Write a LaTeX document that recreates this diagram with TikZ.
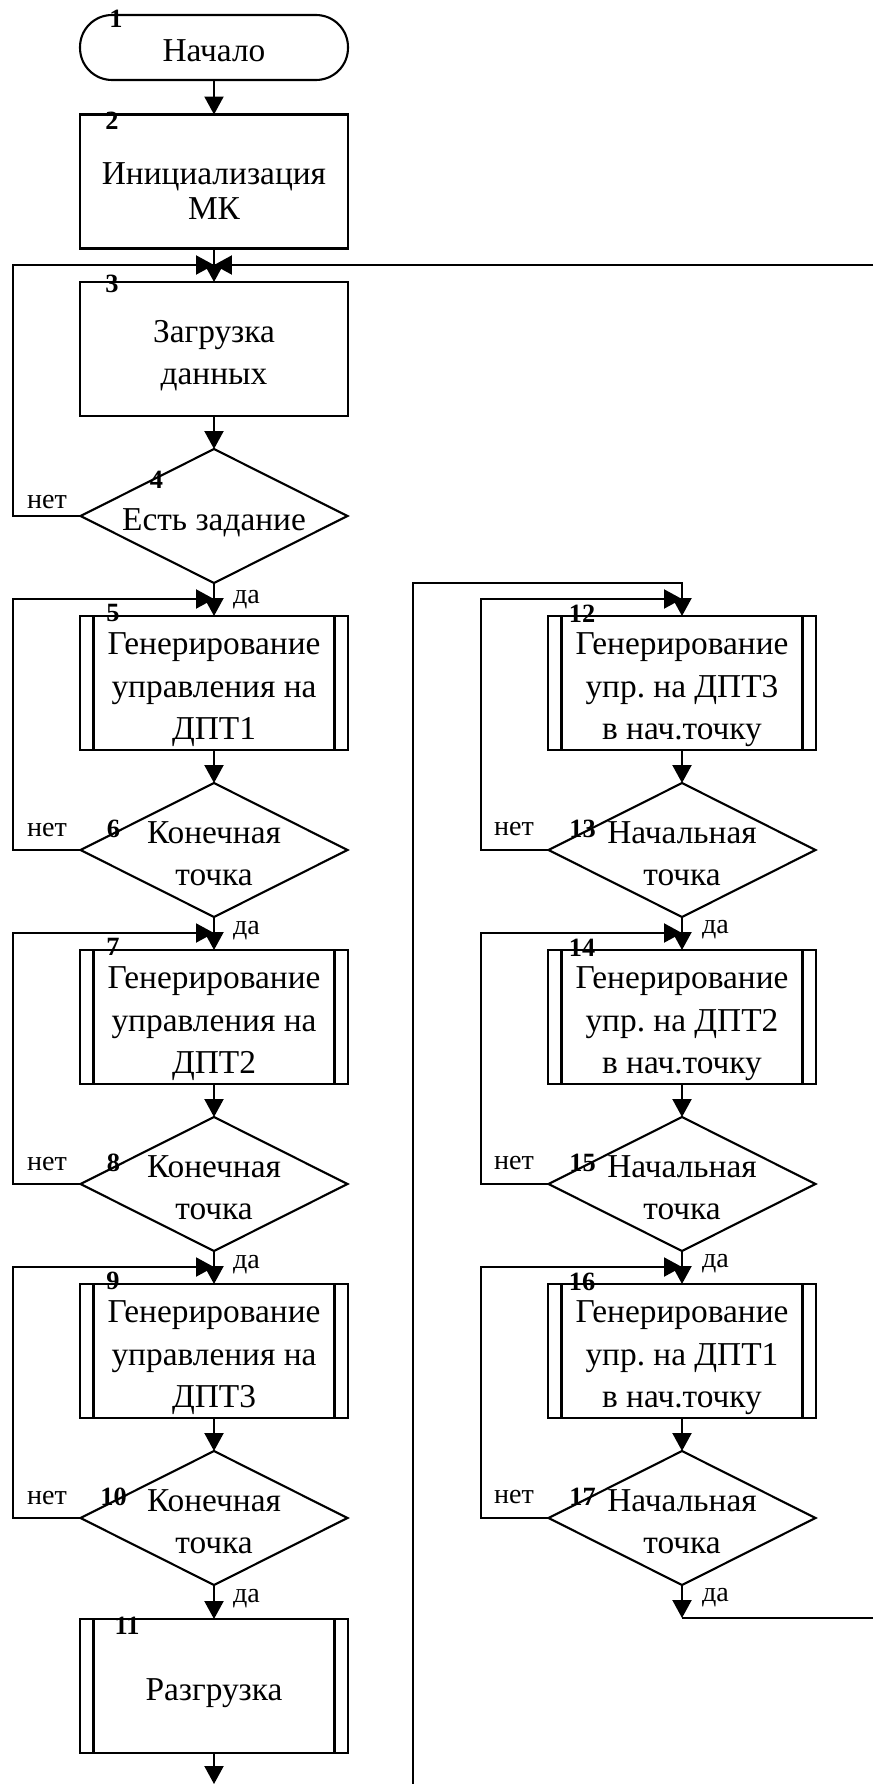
\documentclass[tikz,border=0pt]{standalone}
\usepackage{fontspec}
\setmainfont{Liberation Serif}
\usetikzlibrary{arrows.meta,shapes.geometric}

\newcommand\blockfont{\fontsize{19}{24.2}\selectfont}
\newcommand\tagfont{\fontsize{15}{15}\selectfont\bfseries}
\newcommand\notefont{\fontsize{16}{16}\selectfont}
\newcommand\lnstrut{\rule[-0.22em]{0pt}{1.3em}}

\tikzset{
  every node/.style={inner sep=0pt, outer sep=0pt},
  blk/.style={draw, line width=1.2pt, font=\blockfont, align=center,
    execute at end node=\lnstrut},
  term/.style={blk, rounded corners=0.64cm, minimum width=5.36cm, minimum height=1.3cm},
  proc/.style={blk, minimum width=5.36cm, minimum height=2.68cm},
  subproc/.style={proc, path picture={
      \draw[line width=1.2pt]
        ([xshift=0.27cm]path picture bounding box.north west) -- ([xshift=0.27cm]path picture bounding box.south west)
        ([xshift=-0.27cm]path picture bounding box.north east) -- ([xshift=-0.27cm]path picture bounding box.south east);}},
  dec/.style={draw, line width=1.2pt, diamond, minimum width=5.34cm, minimum height=2.68cm},
  dtxt/.style={font=\blockfont, align=center, execute at end node=\lnstrut},
  tag/.style={font=\tagfont},
  note/.style={font=\notefont},
  con/.style={line width=1.2pt},
  arr/.style={con, -{Triangle[length=0.36cm, width=0.38cm]}},
}

\begin{document}
\frenchspacing
\begin{tikzpicture}[x=0.02cm, y=-0.02cm]
  \useasboundingbox (0,0) rectangle (873,1784);

  % start, init, load, check
  \node[term] (s1) at (214,47.5) {\lnstrut Начало};
  \node[proc, font=\fontsize{19}{19.9}\selectfont] (b2) at (214,181.5)
    {\rule{0pt}{0.95cm}Инициализация\\МК};
  \node[proc] (b3) at (214,349) {\lnstrut Загрузка\\данных};
  \node[dec] (d4) at (214,516) {};
  \node[dtxt] (t4) at (d4) {\lnstrut Есть задание};
  \coordinate (j3) at (214,265);
  \coordinate (k3) at (13,265);
  \coordinate (r3) at (873,265);

  \node[tag] (n1) at ([shift={(36,4)}]s1.north west) {1};
  \node[tag] (n2) at ([shift={(32,6)}]b2.north west) {2};
  \node[tag] (n3) at ([shift={(32,2)}]b3.north west) {3};
  \node[tag] (n4) at ([shift={(76,-36)}]d4.west) {4};

  \draw[arr] (s1) -- (b2);
  \draw[arr] (b2) -- (b3);
  \draw[arr] (b3) -- (d4);
  \draw[arr] (d4.west) -| (k3) -- (j3);
  \draw[arr] (r3) -- (j3);
  \node[note, anchor=base] (no4) at (47,508) {нет};

  % left column: run each motor to its end point
  \foreach \i/\bn/\dn/\m in {0/5/6/1, 1/7/8/2, 2/9/10/3}
  {
    \node[subproc] (b\bn) at (214,683+334*\i) {\lnstrut Генерирование\\управления на\\ДПТ\m};
    \node[dec] (d\dn) at (214,850+334*\i) {};
    \node[dtxt] (t\dn) at (d\dn) {\lnstrut Конечная\\точка};
    \coordinate (j\bn) at (214,599+334*\i);
    \coordinate (k\bn) at (13,599+334*\i);
    \node[tag] (n\bn) at ([shift={(33,-3)}]b\bn.north west) {\bn};
    \node[tag] (n\dn) at ([shift={(33,-21)}]d\dn.west) {\dn};
    \draw[arr] (b\bn) -- (d\dn);
    \draw[arr] (d\dn.west) -| (k\bn) -- (j\bn);
    \node[note, anchor=base] (no\dn) at (47,836+334*\i) {нет};
    \node[note, anchor=base west] (yes\dn) at (233,934+334*\i) {да};
  }
  \node[note, anchor=base west] (yes4) at (233,603) {да};
  \draw[arr] (d4) -- (b5);
  \draw[arr] (d6) -- (b7);
  \draw[arr] (d8) -- (b9);

  % unload
  \node[subproc] (b11) at (214,1686) {\lnstrut Разгрузка};
  \node[tag] (n11) at ([shift={(47,7)}]b11.north west) {11};
  \coordinate (e11) at (214,1784);
  \draw[arr] (d10) -- (b11);
  \draw[arr] (b11) -- (e11);

  % right column: return motors to start point
  \foreach \i/\bn/\dn/\m in {0/12/13/3, 1/14/15/2, 2/16/17/1}
  {
    \node[subproc] (b\bn) at (682,683+334*\i) {\lnstrut Генерирование\\упр. на ДПТ\m\\в нач.точку};
    \node[dec] (d\dn) at (682,850+334*\i) {};
    \node[dtxt] (t\dn) at (d\dn) {\lnstrut Начальная\\точка};
    \coordinate (j\bn) at (682,599+334*\i);
    \coordinate (k\bn) at (481,599+334*\i);
    \node[tag] (n\bn) at ([shift={(34,-2)}]b\bn.north west) {\bn};
    \node[tag] (n\dn) at ([shift={(34,-21)}]d\dn.west) {\dn};
    \draw[arr] (b\bn) -- (d\dn);
    \draw[arr] (d\dn.west) -| (k\bn) -- (j\bn);
    \node[note, anchor=base] (no\dn) at (514,835+334*\i) {нет};
    \node[note, anchor=base west] (yes\dn) at (702,933+334*\i) {да};
  }
  \draw[arr] (d13) -- (b14);
  \draw[arr] (d15) -- (b16);

  \coordinate (p0) at (413,1784);
  \coordinate (p1) at (413,583);
  \coordinate (p2) at (682,583);
  \draw[arr] (p0) -- (p1) -- (p2) -- (b12);
  \coordinate (q17) at (682,1618);
  \coordinate (r17) at (873,1618);
  \draw[arr] (d17) -- (q17);
  \draw[con] (q17) -- (r17);
\end{tikzpicture}
\end{document}
